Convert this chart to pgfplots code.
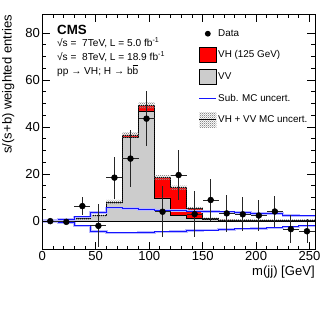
\documentclass[border=0pt]{standalone}
\usepackage{fontspec}
\setmainfont{Liberation Sans}
\usepackage{pgfplots}
\pgfplotsset{compat=1.18}
\usetikzlibrary{patterns}
\pgfdeclarepatternformonly{finecheck}{\pgfqpoint{0pt}{0pt}}{\pgfqpoint{1.6pt}{1.6pt}}{\pgfqpoint{1.6pt}{1.6pt}}{%
  \pgfpathrectangle{\pgfqpoint{0pt}{0pt}}{\pgfqpoint{0.8pt}{0.8pt}}%
  \pgfpathrectangle{\pgfqpoint{0.8pt}{0.8pt}}{\pgfqpoint{0.8pt}{0.8pt}}%
  \pgfusepath{fill}}
\definecolor{vvgrey}{RGB}{204,204,204}
\definecolor{rootblue}{RGB}{20,20,255}
\begin{document}
\begin{tikzpicture}
\path[use as bounding box] (-31.7pt,-52.3pt) rectangle (217.3pt,187.0pt);
\begin{axis}[
 at={(0pt,0pt)}, anchor=south west,
 scale only axis, width=204.5pt, height=176.25pt,
 xmin=0, xmax=255, ymin=-12, ymax=88,
 axis on top,
 axis line style={line width=0.6pt},
 tick align=inside,
 xtick={0,50,...,250}, minor x tick num=4,
 ytick={0,20,...,80}, minor y tick num=3,
 major tick length=5.7pt, minor tick length=2.8pt,
 every tick/.style={black, line width=0.6pt},
 tick label style={font=\fontsize{9.8}{11}\selectfont},
 /pgf/number format/assume math mode=true,
 xticklabel style={inner sep=1pt},
 yticklabel style={inner sep=1.5pt},
 xlabel={m(jj) [GeV]},
 ylabel={s/(s+b) weighted entries},
 label style={font=\fontsize{9.8}{11}\selectfont},
 xlabel style={at={(axis description cs:1,0)}, anchor=east, yshift=-17pt, inner sep=0pt},
 ylabel style={at={(axis description cs:-0.1247,1)}, anchor=east, inner sep=0pt},
 legend cell align=left,
 legend style={draw=none, fill=none, at={(axis cs:146.1,83.1)}, anchor=north west,
   font=\fontsize{7.4}{8.5}\selectfont, row sep=4.5pt, inner sep=0pt,
   nodes={inner sep=1pt, anchor=west}},
]
% VH + VV stack (total)
\addplot[const plot, fill=red, draw=black, line width=0.5pt, forget plot] coordinates {
(0,0.1)(15,0.3)(30,1.0)(45,2.3)(60,8.1)(75,36.7)(90,49.4)(105,18.6)(120,14.2)(135,5.5)(150,1.1)(165,0.5)(180,0.45)(195,0.4)(210,0.4)(225,0.4)(240,0.4)(255,0.4)} \closedcycle;
% VV
\addplot[const plot, fill=vvgrey, draw=black, line width=0.5pt, forget plot] coordinates {
(0,0.1)(15,0.3)(30,1.0)(45,2.3)(60,8.0)(75,35.6)(90,46.9)(105,9.9)(120,2.6)(135,1.2)(150,0.6)(165,0.4)(180,0.4)(195,0.4)(210,0.4)(225,0.4)(240,0.4)(255,0.4)} \closedcycle;
% MC uncertainty band: lower edge, then band width stacked on it
\addplot[const plot, draw=none, stack plots=y, forget plot] coordinates {
(0,-0.3)(15,-0.1)(30,0.5)(45,1.7)(60,7.2)(75,35.5)(90,47.9)(105,17.6)(120,13.3)(135,4.9)(150,0.7)(165,0.1)(180,0.05)(195,0.0)(210,0.0)(225,0.0)(240,0.0)(255,0.0)};
\addplot[const plot, draw=none, pattern=finecheck, pattern color=black!45, stack plots=y, forget plot] coordinates {
(0,0.8)(15,0.8)(30,1.0)(45,1.2)(60,1.8)(75,2.4)(90,3.0)(105,2.0)(120,1.8)(135,1.2)(150,0.8)(165,0.8)(180,0.8)(195,0.8)(210,0.8)(225,0.8)(240,0.8)(255,0.8)} \closedcycle;
% Sub. MC uncertainty
\addplot[const plot, rootblue, line width=0.75pt, preaction={draw, rootblue!30, line width=1.9pt}, forget plot] coordinates {
(0,0.2)(15,0.7)(30,1.8)(45,3.6)(60,5.6)(75,5.3)(90,5.0)(105,4.7)(120,4.5)(135,4.3)(150,4.2)(165,3.9)(180,3.6)(195,3.3)(210,3.2)(225,2.4)(240,2.2)(255,2.2)};
\addplot[const plot, rootblue, line width=0.75pt, preaction={draw, rootblue!30, line width=1.9pt}, forget plot] coordinates {
(0,-0.2)(15,-0.7)(30,-2.0)(45,-4.4)(60,-5.0)(75,-5.0)(90,-4.8)(105,-4.6)(120,-4.3)(135,-4.0)(150,-3.8)(165,-3.5)(180,-3.3)(195,-3.1)(210,-2.9)(225,-2.4)(240,-2.0)(255,-2.0)};
% Data
\addplot[only marks, mark=*, mark size=2.2pt, black, forget plot,
  error bars/.cd, x dir=both, x explicit, y dir=both, y explicit,
  error mark=none, error bar style={black!85, line width=0.6pt}]
  coordinates {
(7.5,0) +- (7.5,0.5)
(22.5,-0.3) +- (7.5,0.8)
(37.5,6.4) +- (7.5,3.9)
(52.5,-2.0) +- (7.5,9.2)
(67.5,18.5) +- (7.5,9.0)
(82.5,26.6) +- (7.5,12.2)
(97.5,43.6) +- (7.5,11.8)
(112.5,4.0) +- (7.5,10.8)
(127.5,19.6) +- (7.5,10.6)
(142.5,3.0) +- (7.5,9.8)
(157.5,9.0) +- (7.5,8.9)
(172.5,3.3) +- (7.5,8.0)
(187.5,2.9) +- (7.5,7.3)
(202.5,2.4) +- (7.5,6.6)
(217.5,4.1) +- (7.5,6.6)
(232.5,-3.4) +- (7.5,5.9)
(247.5,-4.3) +- (7.5,5.0)
};
% Legend
\addlegendimage{draw=none, legend image code/.code={\path[draw=none, fill=none] (0cm,-0.2cm) rectangle (0.45cm,0.2cm); \fill[black] (0.225cm,0cm) circle (2.2pt);}}
\addlegendentry{Data}
\addlegendimage{draw=none, legend image code/.code={\draw[fill=red, draw=black, line width=0.5pt] (0cm,-0.2cm) rectangle (0.45cm,0.2cm);}}
\addlegendentry{VH (125 GeV)}
\addlegendimage{draw=none, legend image code/.code={\draw[fill=vvgrey, draw=black, line width=0.5pt] (0cm,-0.2cm) rectangle (0.45cm,0.2cm);}}
\addlegendentry{VV}
\addlegendimage{draw=none, legend image code/.code={\path[draw=none, fill=none] (0cm,-0.2cm) rectangle (0.45cm,0.2cm); \draw[rootblue, line width=0.8pt] (0cm,0cm) -- (0.45cm,0cm);}}
\addlegendentry{Sub. MC uncert.}
\addlegendimage{draw=none, legend image code/.code={\fill[pattern=finecheck, pattern color=black!45] (0cm,-0.2cm) rectangle (0.45cm,0.2cm); \draw[black, line width=0.5pt] (0cm,0cm) -- (0.45cm,0cm);}}
\addlegendentry{VH + VV MC uncert.}
% Text
\node[anchor=base west, inner sep=0pt, font=\bfseries\fontsize{10}{12}\selectfont] at (axis cs:13.7,79.5) {CMS};
\node[anchor=base west, inner sep=0pt, font=\fontsize{7.6}{8.5}\selectfont] at (axis cs:13.7,74.3) {√s =\ \ 7TeV, L = 5.0 fb\textsuperscript{-1}};
\node[anchor=base west, inner sep=0pt, font=\fontsize{7.6}{8.5}\selectfont] at (axis cs:13.7,68.5) {√s =\ \ 8TeV, L = 18.9 fb\textsuperscript{-1}};
\node[anchor=base west, inner sep=0pt, font=\fontsize{7.6}{8.5}\selectfont] at (axis cs:13.7,62.6) {pp → VH; H → b$\overline{\hbox{b}}$};
\end{axis}
\end{tikzpicture}
\end{document}
